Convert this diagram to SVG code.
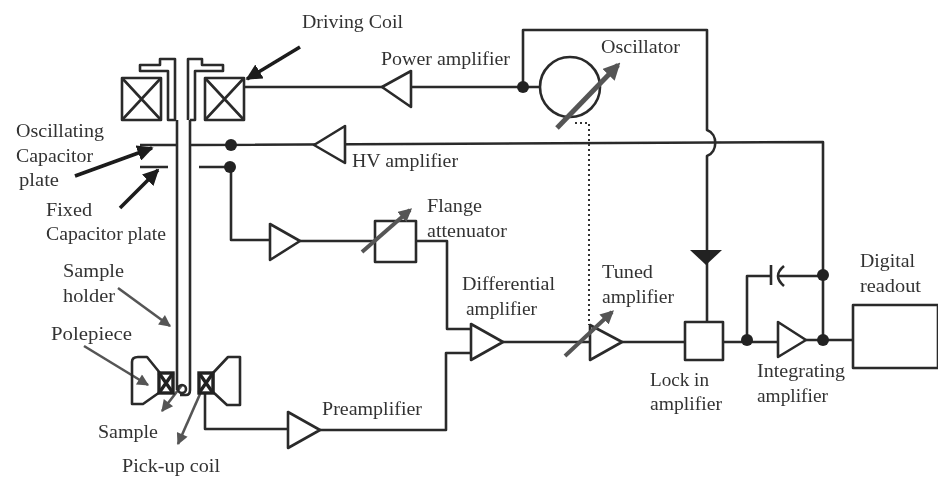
<svg xmlns="http://www.w3.org/2000/svg" width="945" height="481" viewBox="0 0 945 481">
<defs>
<filter id="soft" x="0" y="0" width="100%" height="100%"><feGaussianBlur stdDeviation="0.5"/></filter>
<marker id="ab" viewBox="0 0 10 10" refX="9" refY="5" markerWidth="4.5" markerHeight="4.5" markerUnits="strokeWidth" orient="auto"><path d="M0 0L10 5L0 10Z" fill="#1a1a1a"/></marker>
<marker id="ag" viewBox="0 0 10 10" refX="9" refY="5" markerWidth="5.5" markerHeight="4.5" markerUnits="strokeWidth" orient="auto"><path d="M0 0L10 5L0 10Z" fill="#555"/></marker>
<marker id="av" viewBox="0 0 10 10" refX="8" refY="5" markerWidth="3.4" markerHeight="3.4" markerUnits="strokeWidth" orient="auto"><path d="M0 0L10 5L0 10Z" fill="#555"/></marker>
</defs>
<style>
.w{fill:none;stroke:#2a2a2a;stroke-width:2.6;stroke-linejoin:round}
.s{fill:#fff;stroke:#2a2a2a;stroke-width:2.6;stroke-linejoin:round}
.x{fill:#fff;stroke:#222;stroke-width:3.4}
.d{fill:#222}
.ba{fill:none;stroke:#1a1a1a;stroke-width:3.6;marker-end:url(#ab)}
.ga{fill:none;stroke:#555;stroke-width:2.6;marker-end:url(#ag)}
.va{fill:none;stroke:#555;stroke-width:5;marker-end:url(#av)}
.dot{fill:none;stroke:#333;stroke-width:2;stroke-dasharray:2 3}
text{font-family:"Liberation Serif","Times New Roman",serif;font-size:18px;fill:#333}
</style>
<rect width="945" height="481" fill="#fff"/>
<g filter="url(#soft)">
<g id="connectors">
<path class="w" d="M244 87H540"/>
<path class="w" d="M523 87V30H707V130C718 134 718 152 707 156V322"/>
<path class="w" d="M190 145L823 142V340"/>
<path class="w" d="M140 145H177"/>
<path class="w" d="M140 167H168M199 167H231V240H270"/>
<path class="w" d="M300 241H375M416 241H447V329H471"/>
<path class="w" d="M205 393V429H288M320 430H446V353H471"/>
<path class="w" d="M503 342H590M622 342H685"/>
<path class="w" d="M723 342H778M806 340H853"/>
<path class="w" d="M747 340V276H771M777 276H823"/>
<path class="dot" d="M575 123H589V325"/>
<path class="ba" d="M300 47L247 79"/>
<path class="ba" d="M75 176L152 148"/>
<path class="ba" d="M120 208L158 170"/>
<path class="ga" d="M118 288L170 326"/>
<path class="ga" d="M84 346L148 385"/>
<path class="ga" d="M182 385L162 411"/>
<path class="ga" d="M204 385L178 444"/>
</g>
<g id="sample-holder"><path class="w" d="M177 120V390M190 120V390Q190 395 186 395H180"/><circle class="w" cx="182" cy="389" r="4"/></g>
<g id="flange-left"><path class="w" d="M168 120V71H140V65H160V59H175V120Z"/></g>
<g id="flange-right"><path class="w" d="M190 120H195V71H223V65H202V59H188V120"/></g>
<g id="coil-left"><rect class="w" x="122" y="78" width="39" height="42"/><path class="w" d="M122 78L161 120M161 78L122 120"/></g>
<g id="coil-right"><rect class="w" x="205" y="78" width="39" height="42"/><path class="w" d="M205 78L244 120M244 78L205 120"/></g>
<g id="polepiece-left"><path class="w" d="M132 362Q132 357 138 357H147L160 373V392L143 404H132Z"/></g>
<g id="polepiece-right"><path class="w" d="M240 357H228L213 373V392L227 405H240Z"/></g>
<g id="pickup-left"><rect class="x" x="159" y="373" width="14" height="20"/><path class="x" d="M159 373L173 393M173 373L159 393"/></g>
<g id="pickup-right"><rect class="x" x="199" y="373" width="14" height="20"/><path class="x" d="M199 373L213 393M213 373L199 393"/></g>
<g id="power-amp"><path class="s" d="M382 87L411 71V107Z"/></g>
<g id="oscillator"><circle class="w" cx="570" cy="87" r="30"/><path class="va" d="M557 128L618 65"/></g>
<g id="hv-amp"><path class="s" d="M314 145L345 126V163Z"/></g>
<g id="pre-amp-1"><path class="s" d="M270 224V260L300 241Z"/></g>
<g id="flange-att"><rect class="s" x="375" y="221" width="41" height="41"/><path class="va" style="stroke-width:4" d="M362 252L410 210"/></g>
<g id="preamplifier"><path class="s" d="M288 412V448L320 430Z"/></g>
<g id="diff-amp"><path class="s" d="M471 324V360L503 342Z"/></g>
<g id="tuned-amp"><path class="s" d="M590 325V360L622 342Z"/><path class="va" style="stroke-width:4" d="M565 356L612 312"/></g>
<g id="lock-in"><rect class="s" x="685" y="322" width="38" height="38"/><path class="d" d="M690 250H722L706 265Z"/></g>
<g id="integrating-amp"><path class="s" d="M778 322V357L806 340Z"/></g>
<g id="capacitor"><path class="w" d="M771 265V285M784 266Q772 276 784 286"/></g>
<g id="digital-readout"><rect class="s" x="853" y="305" width="85" height="63"/></g>
<g id="junctions">
<circle class="d" cx="231" cy="145" r="6"/><circle class="d" cx="230" cy="167" r="6"/>
<circle class="d" cx="523" cy="87" r="6"/><circle class="d" cx="747" cy="340" r="6"/>
<circle class="d" cx="823" cy="275" r="6"/><circle class="d" cx="823" cy="340" r="6"/>
</g>
<g id="labels">
<text x="302" y="28" textLength="101" lengthAdjust="spacingAndGlyphs">Driving Coil</text>
<text x="381" y="65" textLength="129" lengthAdjust="spacingAndGlyphs">Power amplifier</text>
<text x="601" y="53" textLength="79" lengthAdjust="spacingAndGlyphs">Oscillator</text>
<text x="352" y="167" textLength="106" lengthAdjust="spacingAndGlyphs">HV amplifier</text>
<text x="16" y="137" textLength="88" lengthAdjust="spacingAndGlyphs">Oscillating</text>
<text x="16" y="162" textLength="77" lengthAdjust="spacingAndGlyphs">Capacitor</text>
<text x="19" y="186" textLength="40" lengthAdjust="spacingAndGlyphs">plate</text>
<text x="46" y="216" textLength="46" lengthAdjust="spacingAndGlyphs">Fixed</text>
<text x="46" y="240" textLength="120" lengthAdjust="spacingAndGlyphs">Capacitor plate</text>
<text x="63" y="277" textLength="61" lengthAdjust="spacingAndGlyphs">Sample</text>
<text x="63" y="302" textLength="52" lengthAdjust="spacingAndGlyphs">holder</text>
<text x="51" y="340" textLength="81" lengthAdjust="spacingAndGlyphs">Polepiece</text>
<text x="98" y="438" textLength="60" lengthAdjust="spacingAndGlyphs">Sample</text>
<text x="122" y="472" textLength="98" lengthAdjust="spacingAndGlyphs">Pick-up coil</text>
<text x="427" y="212" textLength="55" lengthAdjust="spacingAndGlyphs">Flange</text>
<text x="427" y="237" textLength="80" lengthAdjust="spacingAndGlyphs">attenuator</text>
<text x="462" y="290" textLength="93" lengthAdjust="spacingAndGlyphs">Differential</text>
<text x="466" y="315" textLength="71" lengthAdjust="spacingAndGlyphs">amplifier</text>
<text x="322" y="415" textLength="100" lengthAdjust="spacingAndGlyphs">Preamplifier</text>
<text x="602" y="278" textLength="51" lengthAdjust="spacingAndGlyphs">Tuned</text>
<text x="602" y="303" textLength="72" lengthAdjust="spacingAndGlyphs">amplifier</text>
<text x="650" y="386" textLength="59" lengthAdjust="spacingAndGlyphs">Lock in</text>
<text x="650" y="410" textLength="72" lengthAdjust="spacingAndGlyphs">amplifier</text>
<text x="757" y="377" textLength="88" lengthAdjust="spacingAndGlyphs">Integrating</text>
<text x="757" y="402" textLength="71" lengthAdjust="spacingAndGlyphs">amplifier</text>
<text x="860" y="267" textLength="55" lengthAdjust="spacingAndGlyphs">Digital</text>
<text x="860" y="292" textLength="61" lengthAdjust="spacingAndGlyphs">readout</text>
</g>
</g>
</svg>
